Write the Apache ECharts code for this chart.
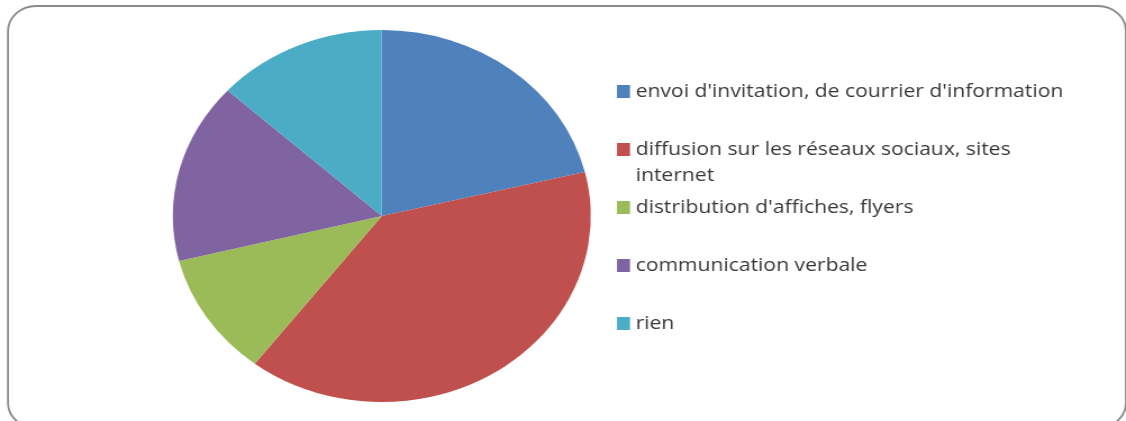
<!DOCTYPE html>
<html>
<head>
<meta charset="utf-8">
<script src="https://cdn.jsdelivr.net/npm/echarts@6/dist/echarts.min.js"></script>
<style>
html,body{margin:0;padding:0;background:#fff;overflow:hidden;width:1126px;height:421px;}
#c{width:1002px;height:421px;transform:scaleX(1.1237);transform-origin:0 0;}
</style>
</head>
<body>
<div id="c"></div>
<script>
// Data (percent shares)
const categories = [
  "envoi d'invitation, de courrier d'information",
  "diffusion sur les réseaux sociaux, sites internet",
  "distribution d'affiches, flyers",
  "communication verbale",
  "rien"
];
const legendLabels = [
  "envoi d'invitation, de courrier d'information",
  " \ndiffusion sur les réseaux sociaux, sites\ninternet",
  "distribution d'affiches, flyers",
  "communication verbale",
  "rien"
];
const values = [21.2, 39.2, 10.7, 15.7, 13.2];
const colors = ['#4F81BD', '#C0504D', '#9BBB59', '#8064A2', '#4BACC6'];

const S = 1.1237; // horizontal stretch of the whole picture
const chart = echarts.init(document.getElementById('c'));

const legendCenters = [91.5, 149.5, 207.5, 265.5, 323.5];
const LH = 26;
const legends = categories.map((name, i) => {
  const multi = legendLabels[i].indexOf('\n') >= 0;
  return {
    data: [name],
    orient: 'vertical',
    left: 617 / S,
    top: multi ? legendCenters[i] - 39 : legendCenters[i] - LH / 2,
    padding: 0,
    itemWidth: 13 / S,
    itemHeight: 13,
    icon: 'rect',
    selectedMode: false,
    formatter: () => legendLabels[i],
    textStyle: {
      fontFamily: 'Open Sans',
      fontSize: 18.8,
      color: '#383838',
      lineHeight: LH
    }
  };
});

chart.setOption({
  animation: false,
  color: colors,
  legend: legends,
  graphic: [{
    type: 'rect',
    z: -1,
    shape: { x: 8 / S, y: 6, width: 1002 - 8 / S, height: 422, r: 25 },
    style: { fill: 'none', stroke: '#8a8a8a', lineWidth: 1.8 }
  }],
  series: [{
    type: 'pie',
    center: [381.8 / S, 216],
    radius: 186,
    startAngle: 90,
    clockwise: true,
    label: { show: false },
    labelLine: { show: false },
    emphasis: { disabled: true },
    itemStyle: { borderWidth: 0 },
    data: categories.map((n, i) => ({ name: n, value: values[i] }))
  }]
});
</script>
</body>
</html>
